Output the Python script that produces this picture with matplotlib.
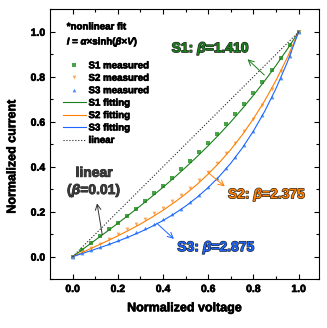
import numpy as np
import matplotlib
matplotlib.use('Agg')
import matplotlib.pyplot as plt
import matplotlib.patheffects as pe

plt.rcParams['font.family'] = ['Liberation Sans', 'DejaVu Sans']
plt.rcParams['font.weight'] = 'bold'
plt.rcParams['mathtext.fontset'] = 'custom'
plt.rcParams['mathtext.rm'] = 'Liberation Sans:bold'
plt.rcParams['mathtext.it'] = 'Liberation Sans:italic:bold'
plt.rcParams['mathtext.bf'] = 'Liberation Sans:bold'

# measured points
v_meas = [0.00, 0.04, 0.08, 0.12, 0.16, 0.20, 0.24, 0.28, 0.32, 0.36, 0.40, 0.44, 0.48,
          0.52, 0.56, 0.60, 0.64, 0.68, 0.72, 0.76, 0.80, 0.84, 0.88, 0.92, 0.96, 1.00]
s1_meas = [0, 0.030, 0.061, 0.090, 0.121, 0.151, 0.182, 0.214, 0.247, 0.281, 0.315, 0.351, 0.388,
           0.426, 0.465, 0.505, 0.546, 0.589, 0.633, 0.679, 0.727, 0.777, 0.830, 0.884, 0.942, 1.0]
s2_meas = [0, 0.019, 0.038, 0.058, 0.078, 0.099, 0.121, 0.143, 0.167, 0.192, 0.218, 0.246, 0.275,
           0.306, 0.340, 0.376, 0.416, 0.459, 0.506, 0.557, 0.614, 0.676, 0.745, 0.825, 0.908, 1.0]
s3_meas = [0, 0.015, 0.030, 0.045, 0.060, 0.076, 0.093, 0.110, 0.128, 0.147, 0.167, 0.189, 0.213,
           0.242, 0.273, 0.309, 0.349, 0.393, 0.443, 0.498, 0.559, 0.629, 0.708, 0.795, 0.892, 1.0]

# fitting curves
v_fit = [0.00, 0.05, 0.10, 0.15, 0.20, 0.25, 0.30, 0.35, 0.40, 0.45, 0.50,
         0.55, 0.60, 0.65, 0.70, 0.75, 0.80, 0.85, 0.90, 0.95, 1.00]
s1_fit = [0, 0.0366, 0.0735, 0.1106, 0.1484, 0.1869, 0.2262, 0.2668, 0.3086, 0.3520, 0.3971,
          0.4442, 0.4936, 0.5453, 0.5998, 0.6573, 0.7180, 0.7823, 0.8505, 0.9229, 1.0]
s2_fit = [0, 0.0223, 0.0450, 0.0683, 0.0925, 0.1181, 0.1453, 0.1746, 0.2063, 0.2410, 0.2790,
          0.3210, 0.3676, 0.4193, 0.4769, 0.5413, 0.6133, 0.6939, 0.7844, 0.8860, 1.0]
s3_fit = [0, 0.0163, 0.0330, 0.0503, 0.0687, 0.0885, 0.1102, 0.1341, 0.1608, 0.1909, 0.2248,
          0.2635, 0.3076, 0.3581, 0.4159, 0.4824, 0.5588, 0.6469, 0.7483, 0.8652, 1.0]
v_lin = [0, 1]
i_lin = [0, 1]

heavy = [pe.withStroke(linewidth=0.45, foreground='black')]

fig = plt.figure(figsize=(3.27, 3.28), dpi=100)
ax = fig.add_axes([0.153, 0.149, 0.8225, 0.8225])

ax.plot(v_meas, s1_meas, 's', color='#4aa54a', ms=2.3, mew=0, label='S1 measured')
ax.plot(v_meas, s2_meas, 'v', color='#f8a860', ms=2.7, mew=0, label='S2 measured')
ax.plot(v_meas, s3_meas, '^', color='#5090f0', ms=2.7, mew=0, label='S3 measured')
ax.plot(v_fit, s1_fit, '-', color='#1a7f1a', lw=0.8, label='S1 fitting')
ax.plot(v_fit, s2_fit, '-', color='#ff7f00', lw=0.8, label='S2 fitting')
ax.plot(v_fit, s3_fit, '-', color='#1a66ff', lw=0.8, label='S3 fitting')
ax.plot(v_lin, i_lin, ':', color='#222222', lw=0.8, label='linear')

ax.set_xlim(-0.1, 1.09)
ax.set_ylim(-0.1, 1.1)
ax.set_xticks([0.0, 0.2, 0.4, 0.6, 0.8, 1.0])
ax.set_yticks([0.0, 0.2, 0.4, 0.6, 0.8, 1.0])
ax.set_xticks(np.arange(0.1, 1.0, 0.2), minor=True)
ax.set_yticks(np.arange(-0.1, 1.1, 0.2), minor=True)
ax.tick_params(which='both', direction='in', top=True, right=True, labelsize=7.5, width=0.8)
ax.tick_params(which='major', length=3.5)
ax.tick_params(which='minor', length=2)
for lab in ax.get_xticklabels() + ax.get_yticklabels():
    lab.set_path_effects(heavy)
for s in ax.spines.values():
    s.set_linewidth(0.8)
ax.set_xlabel('Normalized voltage', fontsize=9, fontweight='bold', labelpad=6, path_effects=heavy)
ax.set_ylabel('Normalized current', fontsize=9, fontweight='bold', path_effects=heavy)
ax.yaxis.set_label_coords(-0.118, 0.454)

leg = ax.legend(loc='upper left', bbox_to_anchor=(0.049, 0.811), frameon=False, fontsize=7,
                handlelength=2.3, handletextpad=0.3, labelspacing=0.25, borderpad=0,
                borderaxespad=0)
for t in leg.get_texts():
    t.set_path_effects(heavy)

ax.text(-0.026, 1.024, '*nonlinear fit', fontsize=7, va='center', ha='left', path_effects=heavy)
ax.text(-0.026, 0.957, r'$I$ = $\alpha$×sinh($\beta$×$V$)', fontsize=7, va='center', ha='left',
        path_effects=heavy)

outline = [pe.withStroke(linewidth=0.9, foreground='#222222')]
ax.text(0.438, 0.927, r'S1: $\beta$=1.410', fontsize=10, color='#1a7f1a', va='center', ha='left',
        path_effects=outline)
ax.text(0.687, 0.277, r'S2: $\beta$=2.375', fontsize=10, color='#ff8000', va='center', ha='left',
        path_effects=outline)
ax.text(0.463, 0.042, r'S3: $\beta$=2.875', fontsize=10, color='#1a66ff', va='center', ha='left',
        path_effects=outline)
ax.text(0.095, 0.33, 'linear\n' + r'($\beta$=0.01)', fontsize=10, color='#3a3a3a', va='center',
        ha='center', linespacing=1.1, path_effects=[pe.withStroke(linewidth=0.6, foreground='#222222')])

arr = dict(arrowstyle='->', lw=0.7, shrinkA=0, shrinkB=0)
ax.annotate('', xy=(0.774, 0.878), xytext=(0.848, 0.808), arrowprops=dict(arr, color='#1a7f1a'))
ax.annotate('', xy=(0.673, 0.3125), xytext=(0.599, 0.374), arrowprops=dict(arr, color='#ff7f00'))
ax.annotate('', xy=(0.448, 0.079), xytext=(0.372, 0.149), arrowprops=dict(arr, color='#1a66ff'))
ax.annotate('', xy=(0.108, 0.237), xytext=(0.131, 0.098), arrowprops=dict(arr, color='#333333'))

fig.savefig('out.png', dpi=100)
